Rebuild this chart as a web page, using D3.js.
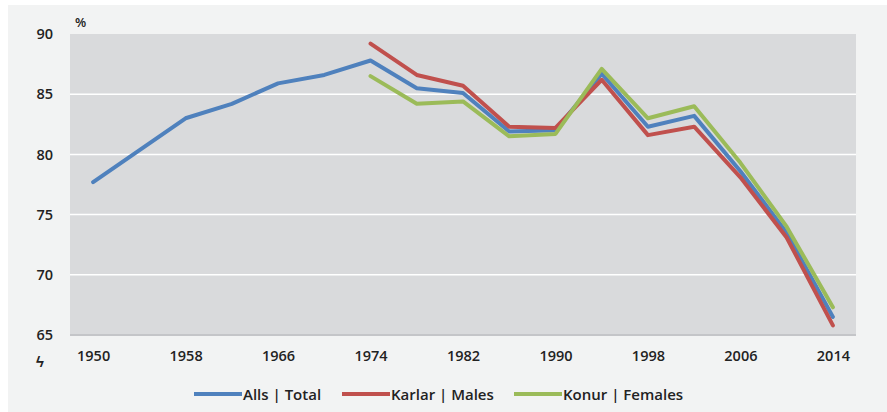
<!DOCTYPE html>
<html>
<head lang="en">
  <meta charset="UTF-8">
  <title>Alls | Karlar | Konur</title>
</head>
<style>
  body { margin: 0; background: #fff; }
  #chart text { font-family: "Open Sans", sans-serif; font-weight: 600; fill: #222; }
</style>
<body>

<svg id="chart" width="887" height="412"></svg>

<script src="https://cdn.jsdelivr.net/npm/d3@7"></script>
<script>
  var years = [1950, 1954, 1958, 1962, 1966, 1970, 1974, 1978, 1982, 1986, 1990, 1994, 1998, 2002, 2006, 2010, 2014];
  var tickYears = [1950, 1958, 1966, 1974, 1982, 1990, 1998, 2006, 2014];
  var yTicks = [65, 70, 75, 80, 85, 90];

  var total   = [77.7, null, 83.0, 84.2, 85.9, 86.6, 87.8, 85.5, 85.1, 81.9, 82.0, 86.7, 82.3, 83.2, 78.6, 73.5, 66.5];
  var males   = [null, null, null, null, null, null, 89.2, 86.6, 85.7, 82.3, 82.2, 86.2, 81.6, 82.3, 78.1, 73.1, 65.8];
  var females = [null, null, null, null, null, null, 86.5, 84.2, 84.4, 81.5, 81.7, 87.1, 83.0, 84.0, 79.3, 74.0, 67.3];

  var seriesNames = ['Alls | Total', 'Karlar | Males', 'Konur | Females'];
  var seriesColors = ['#4f81bd', '#c0504d', '#9bbb59'];
  var seriesValues = [total, males, females];

  // plot box (window.top is read-only, so no "top" here)
  var plotL = 70, plotR = 856, plotT = 34, plotB = 335;
  var svg = d3.select('#chart');

  svg.append('rect')
    .attr('x', 8).attr('y', 5).attr('width', 879).attr('height', 407)
    .attr('fill', '#f2f3f3');

  var x = d3.scalePoint().domain(years).range([plotL, plotR]).padding(0.5);
  var y = d3.scaleLinear().domain([65, 90]).range([plotB, plotT]);

  svg.append('rect')
    .attr('x', plotL).attr('y', plotT)
    .attr('width', plotR - plotL).attr('height', plotB - plotT)
    .attr('fill', '#d9dadc');

  // gridlines
  svg.append('g').selectAll('line')
    .data(yTicks.filter(function (d) { return d > 65 && d < 90; }))
    .enter().append('line')
      .attr('x1', plotL).attr('x2', plotR)
      .attr('y1', y).attr('y2', y)
      .attr('stroke', '#ffffff').attr('stroke-width', 1.5);

  svg.append('line')
    .attr('x1', plotL).attr('x2', plotR)
    .attr('y1', plotB).attr('y2', plotB)
    .attr('stroke', '#c4c5c8').attr('stroke-width', 2);

  // y axis
  var yAxis = svg.append('g')
    .attr('transform', 'translate(' + 53 + ',0)')
    .call(d3.axisLeft(y).tickValues(yTicks).tickSize(0).tickPadding(0));
  yAxis.select('.domain').remove();
  yAxis.selectAll('text').style('font-size', '14.5px');

  // x axis
  var xAxis = svg.append('g')
    .attr('transform', 'translate(0,' + 351 + ')')
    .call(d3.axisBottom(x).tickValues(tickYears).tickSize(0).tickPadding(0));
  xAxis.select('.domain').remove();
  xAxis.selectAll('text').style('font-size', '14.5px');

  svg.append('text').attr('x', 75).attr('y', 27).style('font-size', '13px').text('%');
  svg.append('text').attr('x', 36).attr('y', 367).style('font-size', '15px').text('ϟ');

  var line = d3.line()
    .x(function (d) { return x(d.year); })
    .y(function (d) { return y(d.v); });

  seriesValues.forEach(function (vals, i) {
    var pts = years.map(function (yr, j) { return { year: yr, v: vals[j] }; })
      .filter(function (d) { return d.v != null; });
    svg.append('path')
      .datum(pts)
      .attr('d', line)
      .attr('fill', 'none')
      .attr('stroke', seriesColors[i])
      .attr('stroke-width', 4)
      .attr('stroke-linejoin', 'round')
      .attr('stroke-linecap', 'round');
  });

  // legend
  var legendX = [194, 342, 514];
  var legend = svg.append('g').selectAll('g')
    .data(seriesNames)
    .enter().append('g')
      .attr('transform', function (d, i) { return 'translate(' + legendX[i] + ',394)'; });

  legend.append('line')
    .attr('x1', 0).attr('x2', 48)
    .attr('stroke', function (d, i) { return seriesColors[i]; })
    .attr('stroke-width', 4);

  legend.append('text')
    .attr('x', 49).attr('y', 5.5)
    .style('font-size', '15px')
    .text(function (d) { return d; });
</script>
</body>
</html>
